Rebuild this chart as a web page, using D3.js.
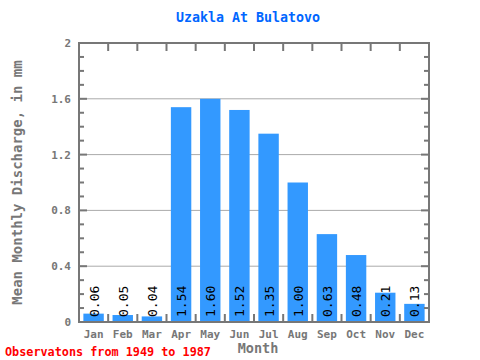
<!DOCTYPE html>
<html><head><meta charset="utf-8">
<script src="https://cdn.jsdelivr.net/npm/d3@7"></script>
<style>body{margin:0;background:#fff}svg{display:block}</style>
</head><body>
<script>
const months = ["Jan","Feb","Mar","Apr","May","Jun","Jul","Aug","Sep","Oct","Nov","Dec"];
const values = [0.06,0.05,0.04,1.54,1.60,1.52,1.35,1.00,0.63,0.48,0.21,0.13];
const labels = ["0.06","0.05","0.04","1.54","1.60","1.52","1.35","1.00","0.63","0.48","0.21","0.13"];
const yTicks = [0,0.4,0.8,1.2,1.6,2];
const yTickLabels = ["0","0.4","0.8","1.2","1.6","2"];
const title = "Uzakla At Bulatovo";
const yTitle = "Mean Monthly Discharge, in mm";
const xTitle = "Month";
const footer = "Observatons from 1949 to 1987";

const W=480,H=360, L=79, R=429, T=43, B=322;
const font = "'DejaVu Sans Mono', monospace";
const svg = d3.select("body").append("svg").attr("width",W).attr("height",H);
const x = d3.scaleBand().domain(months).range([L,R]).paddingInner(0.3).paddingOuter(0.15);
const xb = d3.scaleBand().domain(months).range([L,R]);
const y = d3.scaleLinear().domain([0,2]).range([B,T]);
const grey="#777";

svg.append("g").selectAll("line").data(yTicks.filter(d=>d>0&&d<2)).join("line")
 .attr("x1",L).attr("x2",R).attr("y1",d=>y(d)).attr("y2",d=>y(d))
 .attr("stroke","#aaa").attr("stroke-width",1);

svg.append("g").selectAll("rect").data(values).join("rect")
 .attr("x",(d,i)=>x(months[i])).attr("width",x.bandwidth())
 .attr("y",d=>y(d)).attr("height",d=>B-y(d)).attr("fill","#3399ff");

svg.append("g").selectAll("text").data(labels).join("text")
 .attr("transform",(d,i)=>`translate(${x(months[i])+x.bandwidth()/2+5},${B-5}) rotate(-90)`)
 .attr("font-family",font).attr("font-size",13).attr("fill","#000").text(d=>d);

const minor = d3.range(0,21).map(v=>v/10);
const tk = svg.append("g").attr("stroke",grey).attr("stroke-width",2);
minor.forEach(v=>{
  const major = Math.abs(v*10 % 4) < 1e-6;
  const len = major?8:5;
  tk.append("line").attr("x1",L).attr("x2",L+len).attr("y1",y(v)).attr("y2",y(v));
  tk.append("line").attr("x1",R).attr("x2",R-len).attr("y1",y(v)).attr("y2",y(v));
});
months.slice(1).forEach(m=>{
  const xx = xb(m);
  tk.append("line").attr("x1",xx).attr("x2",xx).attr("y1",T).attr("y2",T+8);
  tk.append("line").attr("x1",xx).attr("x2",xx).attr("y1",B).attr("y2",B-8);
});
svg.append("rect").attr("x",L).attr("y",T).attr("width",R-L).attr("height",B-T)
 .attr("fill","none").attr("stroke",grey).attr("stroke-width",2);

svg.append("g").selectAll("text").data(yTicks).join("text")
 .attr("x",L-8).attr("y",d=>y(d)+4).attr("text-anchor","end")
 .attr("font-family",font).attr("font-size",11).attr("font-weight","bold").attr("fill",grey)
 .text((d,i)=>yTickLabels[i]);
svg.append("g").selectAll("text").data(months).join("text")
 .attr("x",d=>xb(d)+xb.bandwidth()/2).attr("y",338).attr("text-anchor","middle")
 .attr("font-family",font).attr("font-size",11).attr("font-weight","bold").attr("fill",grey)
 .text(d=>d);

svg.append("text").attr("x",248).attr("y",22).attr("text-anchor","middle")
 .attr("font-family",font).attr("font-size",13.3).attr("font-weight","bold").attr("fill","#0066ff").text(title);
svg.append("text").attr("transform",`translate(22,${(T+B)/2}) rotate(-90)`).attr("text-anchor","middle")
 .attr("font-family",font).attr("font-size",14).attr("font-weight","bold").attr("fill",grey).text(yTitle);
svg.append("text").attr("x",258).attr("y",353).attr("text-anchor","middle")
 .attr("font-family",font).attr("font-size",13.5).attr("font-weight","bold").attr("fill",grey).text(xTitle);
svg.append("text").attr("x",5).attr("y",356)
 .attr("font-family",font).attr("font-size",11.8).attr("font-weight","bold").attr("fill","#ff0000").text(footer);
</script>
</body></html>
